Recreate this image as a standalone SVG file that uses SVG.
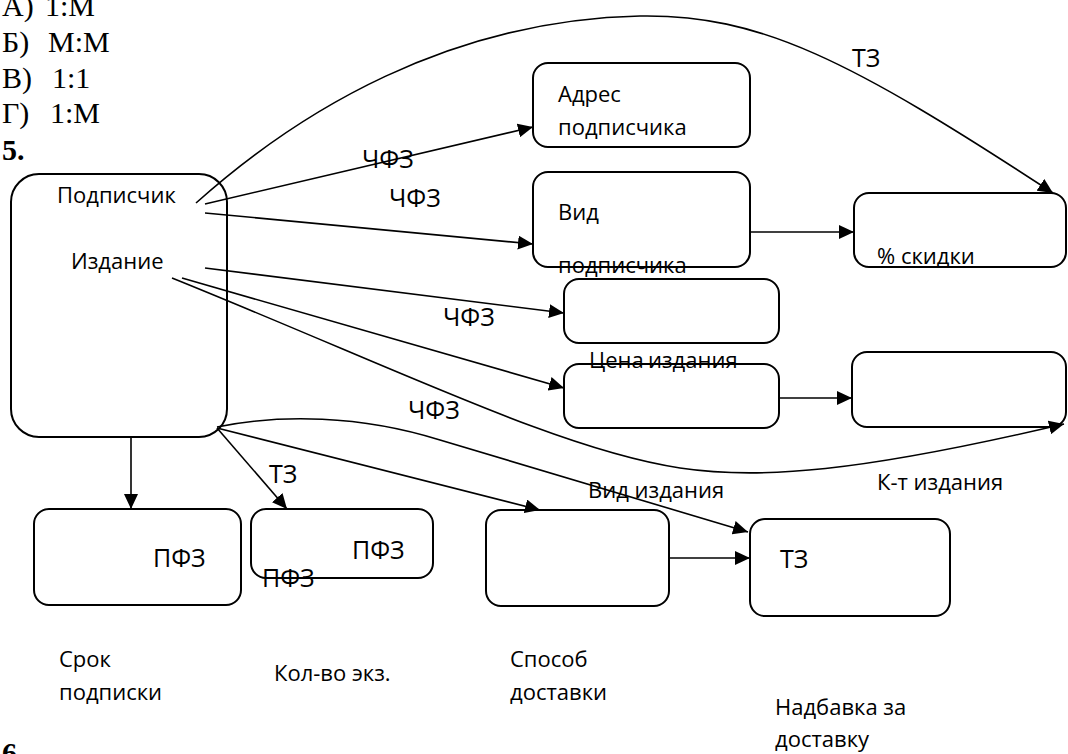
<svg xmlns="http://www.w3.org/2000/svg" width="1068" height="754" viewBox="0 0 1068 754">
<style>
.box{fill:none;stroke:#000;stroke-width:2}
.c{fill:none;stroke:#000;stroke-width:1.6}
.t{font-family:"Open Sans","Noto Sans",sans-serif;font-size:22px;fill:#000}
.l{font-family:"Open Sans","Noto Sans",sans-serif;font-size:25px;fill:#000}
.s{font-family:"Liberation Serif","Times New Roman",serif;font-size:30px;fill:#000}
.b{font-weight:bold}
</style>
<defs>
<marker id="a" markerUnits="userSpaceOnUse" markerWidth="16" markerHeight="14" refX="15" refY="7" orient="auto"><path d="M0,0 L15,7 L0,14 z" fill="#000"/></marker>
</defs>
<rect width="1068" height="754" fill="#fff"/>
<g id="header">
<text class="s" x="2" y="16">А)</text><text class="s" x="45" y="16">1:М</text>
<text class="s" x="2" y="52">Б)</text><text class="s" x="48" y="52">M:M</text>
<text class="s" x="2" y="88">В)</text><text class="s" x="52" y="88">1:1</text>
<text class="s" x="2" y="123">Г)</text><text class="s" x="50" y="123">1:M</text>
<text class="s b" x="2" y="160">5.</text>
<text class="s b" x="2" y="763">6.</text>
</g>
<g id="connectors">
<path class="c" marker-end="url(#a)" d="M196,203 C300,110 450,20 640,16 C760,14 850,60 1053,193"/>
<path class="c" marker-end="url(#a)" d="M205,204 L533,127"/>
<path class="c" marker-end="url(#a)" d="M205,213 L533,244"/>
<path class="c" marker-end="url(#a)" d="M750,232 L854,232"/>
<path class="c" marker-end="url(#a)" d="M205,268 L564,313"/>
<path class="c" marker-end="url(#a)" d="M182,278 L564,388"/>
<path class="c" marker-end="url(#a)" d="M779,398 L852,398"/>
<path class="c" marker-end="url(#a)" d="M172,278 C400,370 560,450 680,468 C760,480 860,472 1064,424"/>
<path class="c" marker-end="url(#a)" d="M217,427 C280,414 360,415 440,440 L748,532"/>
<path class="c" marker-end="url(#a)" d="M217,428 L540,510"/>
<path class="c" marker-end="url(#a)" d="M217,428 L287,509"/>
<path class="c" marker-end="url(#a)" d="M131,437 L131,509"/>
<path class="c" marker-end="url(#a)" d="M669,558 L750,558"/>
<text class="l" x="852" y="67">ТЗ</text>
<text class="l" x="362" y="168">ЧФЗ</text>
<text class="l" x="389" y="207">ЧФЗ</text>
<text class="l" x="443" y="326">ЧФЗ</text>
<text class="l" x="408" y="419">ЧФЗ</text>
<text class="l" x="269" y="483">ТЗ</text>
</g>
<g id="n-main">
<rect class="box" x="11" y="174" width="216" height="263" rx="28"/>
<text class="t" x="57" y="203">Подписчик</text>
<text class="t" x="71" y="269">Издание</text>
</g>
<g id="n-address">
<rect class="box" x="533" y="63" width="217" height="84" rx="15"/>
<text class="t" x="558" y="102">Адрес</text>
<text class="t" x="558" y="135">подписчика</text>
</g>
<g id="n-kind">
<rect class="box" x="533" y="172" width="217" height="95" rx="15"/>
<text class="t" x="558" y="220">Вид</text>
<text class="t" x="558" y="273">подписчика</text>
</g>
<g id="n-discount">
<rect class="box" x="854" y="193" width="212" height="74" rx="15"/>
<text class="t" x="877" y="264">% скидки</text>
</g>
<g id="n-price">
<rect class="box" x="564" y="279" width="215" height="64" rx="15"/>
<text class="t" x="589" y="368">Цена<tspan x="648">издания</tspan></text>
</g>
<g id="n-edkind">
<rect class="box" x="564" y="364" width="215" height="64" rx="15"/>
</g>
<g id="n-coef">
<rect class="box" x="852" y="352" width="214" height="75" rx="15"/>
<text class="t" x="877" y="490">К-т издания</text>
</g>
<g id="n-term">
<rect class="box" x="34" y="509" width="207" height="96" rx="15"/>
<text class="l" x="153" y="567">ПФЗ</text>
<text class="t" x="59" y="667">Срок</text>
<text class="t" x="59" y="700">подписки</text>
</g>
<g id="n-qty">
<rect class="box" x="251" y="509" width="182" height="69" rx="15"/>
<text class="l" x="352" y="559">ПФЗ</text>
<text class="l" x="262" y="587">ПФЗ</text>
<text class="t" x="274" y="681">Кол-во экз.</text>
</g>
<g id="n-delivery">
<rect class="box" x="486" y="510" width="183" height="96" rx="15"/>
<text class="t" x="588" y="498">Вид издания</text>
<text class="t" x="510" y="667">Способ</text>
<text class="t" x="510" y="700">доставки</text>
</g>
<g id="n-surcharge">
<rect class="box" x="750" y="519" width="200" height="97" rx="15"/>
<text class="l" x="780" y="568">ТЗ</text>
<text class="t" x="775" y="715">Надбавка за</text>
<text class="t" x="775" y="747">доставку</text>
</g>
</svg>
